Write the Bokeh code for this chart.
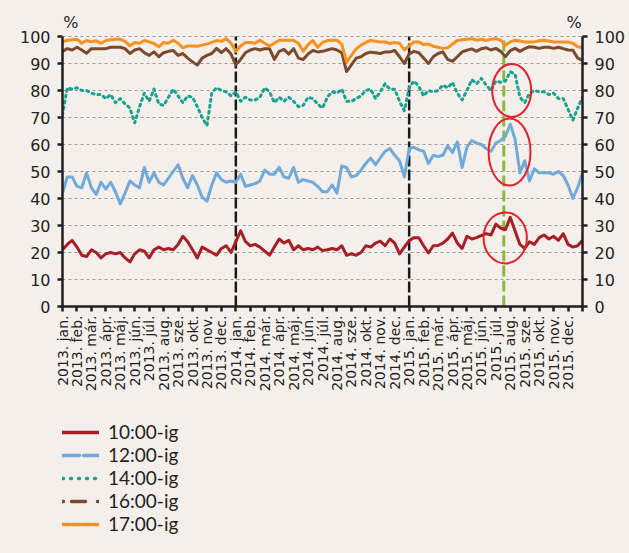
import numpy as np
from bokeh.plotting import figure
from bokeh.layouts import column
from bokeh.models import Range1d, LinearAxis, FixedTicker, Legend, LegendItem
from bokeh.core.properties import value
from bokeh.embed import file_html
from bokeh.resources import INLINE

# ---------------- data (~3 readings per month) -------------
years = ["2013", "2014", "2015"]
months = ["jan.", "feb.", "már.", "ápr.", "máj.", "jún.", "júl.", "aug.",
          "sze.", "okt.", "nov.", "dec."]
tick_labels = [f"{y}. {m}" for y in years for m in months]

series_names = ["10:00-ig", "12:00-ig", "14:00-ig", "16:00-ig", "17:00-ig"]

s10 = [21, 23, 24.5, 22, 19, 18.5, 21, 20, 18, 19.5, 20, 19.5, 20, 18, 16.5, 19.5, 21, 20.5,
       18, 21, 22, 21, 21.5, 21, 23, 26, 24, 21, 18, 22, 21, 20, 19, 21.5, 22.5, 20,
       24, 28, 24, 22.5, 23, 22, 20.5, 19, 22, 25, 23.5, 24.5, 21, 22.5, 21, 21.5, 21, 22,
       20.7, 21, 21.5, 21, 22.5, 19, 19.5, 19, 20, 22.5, 22, 23.5, 24.2, 22.5, 25, 23.5, 19.5, 22,
       24.4, 25.5, 25.5, 22.5, 19.8, 22.5, 22.6, 23.5, 25, 27.2, 23.5, 21.5, 26, 25, 25.5, 26.3, 27, 26.5,
       30.5, 29, 28.5, 33, 28, 23, 21.5, 24, 23, 25.5, 26.5, 25, 26, 24.5, 27, 23, 22, 22.5,
       24.5]

s12 = [42, 48, 48, 44.5, 44, 49.5, 44, 41.5, 46, 43.5, 46, 42.5, 38, 42, 46.5, 45, 44, 51.5,
       46, 49.5, 46, 45, 47.5, 50, 52.5, 47.5, 44, 48.5, 45, 40.5, 39, 45, 49.5, 47, 46, 46.5,
       46, 49, 44.5, 45, 45.5, 46.5, 50.5, 49, 49, 51.5, 48, 47.5, 51.5, 46, 47, 46.5, 46, 44.5,
       42.5, 42.5, 45, 42, 52, 51.5, 48, 48.5, 50.5, 53, 55, 52.5, 55, 57.5, 58.5, 56, 54, 48,
       58.5, 59, 58, 57.5, 53, 56, 55.5, 56, 59.5, 57, 61, 51.5, 59, 61.5, 60.5, 60, 58.5, 57.5,
       60.5, 61.5, 63, 67.5, 62, 49.5, 54, 46.5, 51, 49.5, 49.5, 49.5, 49, 50, 48.5, 45, 40, 44,
       49.5]

s14 = [71, 81, 80.5, 81, 80, 80, 79, 78.5, 78.5, 77, 78.5, 75.5, 77, 75, 73.5, 68, 74, 79,
       76, 80.5, 75, 74.5, 77.5, 80.5, 78, 75.5, 78, 77.5, 74, 70, 67, 79, 81, 80, 79.5, 78,
       79.5, 76, 77.5, 76.5, 76.5, 77.5, 81, 79.5, 75.5, 77.5, 76, 77.5, 76, 74, 74.5, 77.5, 77, 75,
       73.5, 77.5, 79.5, 79, 80.5, 76, 76, 77, 78, 80, 80.5, 77, 79.5, 82.5, 80.5, 80.5, 76, 72.5,
       81, 83.5, 81.5, 78, 80, 79.5, 80, 82, 81, 83, 79, 76.5, 80, 84, 82.5, 84.5, 82, 80,
       83.5, 83, 83.5, 87, 86, 77.5, 75.5, 79, 80, 79.5, 79.5, 78.5, 79, 77, 77, 73, 69, 73.5,
       77.5]

s16 = [94.5, 95.5, 95, 96, 95, 93.8, 95.5, 95.5, 95.5, 95.5, 96, 96, 96, 95.5, 93.7, 95, 95.5, 94,
       93, 94.3, 92.5, 94, 94.5, 94.8, 93, 93.7, 92, 90.6, 89.4, 92, 93, 93.7, 95.6, 94, 95.5, 93.5,
       89.5, 91.5, 94, 95, 95.5, 95, 95.5, 95.5, 91.5, 94.5, 95.2, 93.5, 95.5, 92, 91.5, 93.5, 94.8, 94.3,
       94.5, 95, 95.5, 95, 94, 87, 89.5, 92, 92.5, 93.7, 94.2, 94, 93.7, 94.3, 94.3, 94.8, 92.5, 90,
       93.5, 94.5, 94, 92, 90, 92.5, 93.7, 94.3, 91.5, 90.8, 92.5, 94.3, 94.9, 95.4, 94.5, 95.5, 95.8, 95,
       95.6, 94.5, 92.5, 94.8, 95.6, 94.5, 95.5, 96.2, 96, 95.6, 96, 96, 95.6, 96, 95.5, 95, 94.9, 92,
       91.2]

s17 = [98, 98.6, 98.8, 99, 97.5, 98.5, 98, 98.4, 97.5, 98.5, 98.8, 99, 99, 98.2, 96.5, 97.8, 97.5, 98.5,
       98, 97.4, 96.2, 97.8, 97.5, 98.6, 97.5, 95.8, 96.5, 96.5, 96.4, 96.8, 97.2, 97.8, 98.5, 98.2, 99.2, 97.5,
       94.5, 96.5, 97.8, 97.8, 97.5, 98.6, 97.5, 96.5, 97.5, 98.6, 98.6, 98.6, 98.5, 97.5, 94.5, 97, 98.5, 96,
       97.8, 98.5, 98.6, 98.6, 97.2, 90.5, 93, 95.4, 96.8, 97.8, 98.6, 98.2, 98, 98, 97.4, 97.8, 97.5, 95,
       96.5, 98, 98, 97, 97.2, 96.4, 96, 95.6, 95.8, 97.2, 98.5, 98.8, 99, 99.2, 98.6, 99, 98.5, 99,
       99.2, 98.6, 96.8, 98, 98.6, 98.3, 98, 98, 98, 98.4, 98.6, 98.3, 98, 98, 98, 98, 97.5, 96.2,
       95.8]

# month index of each reading (3 readings per month, 2013 jan = 0)
t = np.arange(len(s10)) / 3.0

year_breaks = [12, 24]          # 2014. jan., 2015. jan.
event_line = [30.55]            # green marker, 2015 summer
ell_x = [31.1, 30.95, 30.65]
ell_y = [80, 57.2, 25.4]
ell_w = [2.7, 2.9, 3.0]
ell_h = [19.6, 24.8, 18.9]
unit_x = [0.05, 35.95]          # "%" unit labels above both value axes
unit_align = ["left", "right"]

# ---------------- styling ----------------
BG = "#F5EFEB"
INK = "#231F20"
TICKFONT = "DejaVu Sans"
LEGFONT = "Lato"
colors = ["#A81E24", "#6FAADA", "#17A293", "#7A4A2C", "#F7901E"]
legend_dash = ["solid", "17 4", "1 7", "1 8 14 12", "8 2"]

p = figure(width=629, height=415, x_range=Range1d(0, 36), y_range=Range1d(0, 110),
           output_backend="svg", toolbar_location=None,
           min_border_left=62, min_border_right=47, min_border_top=9, min_border_bottom=109,
           background_fill_color=BG, border_fill_color=BG, outline_line_color=None)

def style_axis(ax):
    ax.axis_line_color = INK
    ax.axis_line_width = 2.5
    ax.major_tick_line_color = INK
    ax.major_tick_line_width = 2.5
    ax.major_tick_out = 5
    ax.major_tick_in = 0
    ax.minor_tick_line_color = None
    ax.major_label_text_color = INK
    ax.major_label_text_font = TICKFONT

yt = FixedTicker(ticks=list(range(0, 101, 10)))
p.yaxis.ticker = yt
style_axis(p.yaxis[0])
p.yaxis.bounds = (0, 100)
p.yaxis.major_label_text_font_size = "16px"
p.yaxis.major_label_standoff = 7

ry = LinearAxis(ticker=yt, bounds=(0, 100))
style_axis(ry)
ry.major_label_text_font_size = "16px"
ry.major_label_standoff = 7
p.add_layout(ry, "right")

p.xaxis.ticker = FixedTicker(ticks=list(range(0, 37)))
overrides = {i: lab for i, lab in enumerate(tick_labels)}
overrides[36] = ""
p.xaxis.major_label_overrides = overrides
style_axis(p.xaxis[0])
p.xaxis.major_label_orientation = np.pi / 2
p.xaxis.major_label_text_font_size = "14px"
p.xaxis.major_label_standoff = 4

p.xgrid.grid_line_color = None
p.ygrid.ticker = FixedTicker(ticks=list(range(10, 101, 10)))
p.ygrid.grid_line_color = "#9A9A9A"
p.ygrid.grid_line_dash = "3 3"
p.ygrid.grid_line_width = 1.2

# year separators and the event marker (from 0 to 100 %)
p.segment(x0=year_breaks, y0=0, x1=year_breaks, y1=100, line_color="#1A1A1A",
          line_width=2.5, line_dash="11 3")
p.segment(x0=event_line, y0=0, x1=event_line, y1=100, line_color="#8DB83F",
          line_width=3, line_dash="11 4")

data = [s10, s12, s14, s16, s17]
plot_dash = ["solid", "solid", "2 4", "solid", "solid"]
for vals, col, dash in zip(data, colors, plot_dash):
    p.line(t, vals, line_color=col, line_width=3, line_dash=dash,
           line_join="round", line_cap="round" if dash != "solid" else "butt")

p.ellipse(x=ell_x, y=ell_y, width=ell_w, height=ell_h, fill_color=None,
          line_color="#E5202A", line_width=2)

p.text(x=unit_x, y=[101.5, 101.5], text=["%", "%"], text_align=unit_align,
       text_baseline="bottom", text_font=value(TICKFONT), text_font_size="16px",
       text_color=INK)

# ---------------- legend strip below the chart ----------------
q = figure(width=629, height=138, x_range=Range1d(0, 10), y_range=Range1d(0, 10),
           output_backend="svg", toolbar_location=None, x_axis_type=None, y_axis_type=None,
           min_border=0, background_fill_color=BG, border_fill_color=BG,
           outline_line_color=None)
q.grid.visible = False
items = []
for name, col, dash in zip(series_names, colors, legend_dash):
    r = q.line(x=[0, 1], y=[-50, -50], line_color=col, line_width=3.5,
               line_dash=dash, line_cap="round")
    items.append(LegendItem(label=name, renderers=[r]))
legend = Legend(items=items, location=(0, 18), orientation="vertical",
                background_fill_alpha=0, border_line_color=None,
                label_text_font=LEGFONT, label_text_font_size="19px", label_text_color=INK,
                glyph_width=37, glyph_height=20, label_height=20, label_standoff=9,
                spacing=0, padding=0, margin=0)
q.add_layout(legend)

layout = column(p, q, spacing=0, styles={"background-color": BG})
html = file_html(layout, INLINE)
html = html.replace("</head>",
                    "<style>html, body { background-color: %s; }</style>\n</head>" % BG, 1)
open("out.html", "w").write(html)
